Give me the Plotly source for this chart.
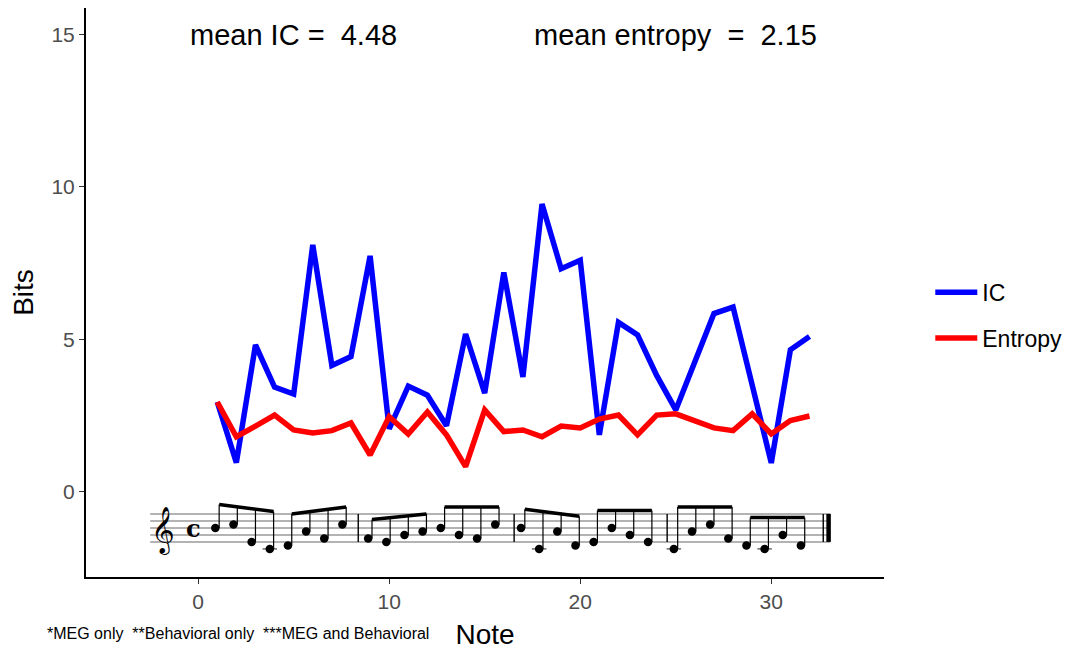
import plotly.graph_objects as go

# ---------------- data ----------------
notes = list(range(1, 33))
ic = [2.95, 0.96, 4.82, 3.44, 3.21, 8.10, 4.15, 4.44, 7.74, 2.07, 3.47, 3.17,
      2.17, 5.18, 3.24, 7.20, 3.77, 9.44, 7.32, 7.60, 1.87, 5.56, 5.15, 3.82,
      2.69, 4.30, 5.85, 6.06, 3.55, 0.95, 4.66, 5.10]
entropy = [2.95, 1.81, 2.16, 2.52, 2.03, 1.93, 2.01, 2.26, 1.21, 2.47, 1.90, 2.62,
           1.87, 0.83, 2.69, 1.98, 2.03, 1.81, 2.16, 2.10, 2.39, 2.52, 1.87, 2.52,
           2.56, 2.34, 2.10, 2.01, 2.56, 1.90, 2.34, 2.49]
mean_ic = 4.48
mean_entropy = 2.15
# melody, in staff steps above E4 (0=E4, 1=F4, ..., -2=C4)
pitches = [4, 5, 0, -2, -1, 3, 1, 5,
           1, 0, 2, 3, 4, 2, 1, 5,
           4, -2, 3, -1, 0, 4, 2, 0,
           -2, 3, 5, 1, -1, -2, 2, -1]
x_ticks = [0, 10, 20, 30]
y_ticks = [0, 5, 10, 15]
footnote = "*MEG only  **Behavioral only  ***MEG and Behavioral"

FONT = "Liberation Sans, Arial, Helvetica, sans-serif"
NB = "\u00a0"

fig = go.Figure()

# ---------------- score (drawn in data space under the curves) ----------------
STAFF_BOTTOM = -1.639
STEP = 0.1148
STAFF_X0, STAFF_X1 = -2.51, 33.08


def py(p):
    return STAFF_BOTTOM + p * STEP


sx, sy = [], []
for i in range(5):
    sx += [STAFF_X0, STAFF_X1, None]
    sy += [py(2 * i), py(2 * i), None]
fig.add_trace(go.Scatter(x=sx, y=sy, mode="lines", line=dict(color="#9a9a9a", width=1.5),
                         hoverinfo="skip", showlegend=False))

# note x positions follow the note index
head_x = [n - 0.1 - 0.05 * ((n - 1) % 8) for n in notes]
head_y = [py(p) for p in pitches]

# bar lines
bx, by = [], []
for xb in [8.38, 16.54, 24.55, 32.72]:
    bx += [xb, xb, None]
    by += [py(0), py(8), None]
fig.add_trace(go.Scatter(x=bx, y=by, mode="lines", line=dict(color="black", width=1.4),
                         hoverinfo="skip", showlegend=False))
fig.add_trace(go.Scatter(x=[33.0, 33.0], y=[py(0), py(8)], mode="lines",
                         line=dict(color="black", width=4.5), hoverinfo="skip", showlegend=False))

# ledger lines
lx, ly = [], []
for xh, p in zip(head_x, pitches):
    if p <= -2:
        lx += [xh - 0.38, xh + 0.38, None]
        ly += [py(-2), py(-2), None]
fig.add_trace(go.Scatter(x=lx, y=ly, mode="lines", line=dict(color="#555555", width=1.3),
                         hoverinfo="skip", showlegend=False))

# stems and beams (groups of four eighth notes, stems up)
DX = 0.2
stx, sty, bmx, bmy = [], [], [], []
for g in range(8):
    ps = pitches[4 * g:4 * g + 4]
    xs = [head_x[4 * g + k] + DX for k in range(4)]
    diff = ps[3] - ps[0]
    if max(ps[1:3]) >= max(ps[0], ps[3]) + 2 or abs(diff) <= 1:
        s = 0.0
    else:
        s = max(-2.0, min(2.0, diff * 0.8))
    L = 5.0
    b = max(ps[k] + L - s * k / 3 for k in range(4))
    for k in range(4):
        top = b + s * k / 3
        stx += [xs[k], xs[k], None]
        sty += [py(ps[k]), py(top), None]
    bmx += [xs[0], xs[3], None]
    bmy += [py(b), py(b + s), None]
fig.add_trace(go.Scatter(x=stx, y=sty, mode="lines", line=dict(color="black", width=1.2),
                         hoverinfo="skip", showlegend=False))
fig.add_trace(go.Scatter(x=bmx, y=bmy, mode="lines", line=dict(color="black", width=3.5),
                         hoverinfo="skip", showlegend=False))
fig.add_trace(go.Scatter(x=head_x, y=head_y, mode="markers",
                         marker=dict(color="black", size=8.5, symbol="circle"),
                         hoverinfo="skip", showlegend=False))

# ---------------- data series ----------------
fig.add_trace(go.Scatter(x=notes, y=ic, mode="lines", name="IC", legendgroup="ic",
                         line=dict(color="#0000FF", width=5.5)))
fig.add_trace(go.Scatter(x=notes, y=entropy, mode="lines", name="Entropy", legendgroup="ent",
                         line=dict(color="#FF0000", width=5.5)))

annotations = [
    dict(x=5, y=15, xref="x", yref="y", text=f"mean IC ={NB}{NB}{mean_ic:.2f}",
         showarrow=False, font=dict(size=29, color="black", family=FONT)),
    dict(x=25, y=15, xref="x", yref="y",
         text=f"mean entropy{NB}{NB}={NB}{NB}{mean_entropy:.2f}",
         showarrow=False, font=dict(size=29, color="black", family=FONT)),
    dict(x=-0.051, y=-0.1, xref="paper", yref="paper", text=footnote, xanchor="left",
         yanchor="middle", showarrow=False, font=dict(size=16, color="black", family=FONT)),
    dict(x=-1.83, y=-1.25, xref="x", yref="y", text="\U0001D11E", showarrow=False,
         font=dict(size=40, color="black", family="DejaVu Sans")),
    dict(x=-0.26, y=-1.2, xref="x", yref="y", text="<b>c</b>", showarrow=False,
         font=dict(size=24, color="black", family="DejaVu Serif")),
]

# the page adds an 8px body margin; margins below compensate for it
fig.update_layout(
    width=1074, height=648,
    margin=dict(l=78, r=198, t=0, b=79),
    paper_bgcolor="white", plot_bgcolor="white",
    font=dict(family=FONT),
    annotations=annotations,
    legend=dict(x=1.058, xanchor="left", y=0.46, yanchor="middle",
                font=dict(size=23, color="black", family=FONT),
                tracegroupgap=13, itemwidth=42),
    xaxis=dict(range=[-5.87, 35.9], tickvals=x_ticks, showgrid=False, zeroline=False,
               showline=True, linecolor="black", linewidth=2,
               ticks="outside", ticklen=5, tickwidth=1.2, tickcolor="#333333",
               tickfont=dict(size=21, color="#4D4D4D", family=FONT),
               title=dict(text="Note", font=dict(size=28, color="black", family=FONT), standoff=12)),
    yaxis=dict(range=[-2.79, 15.87], tickvals=y_ticks, showgrid=False, zeroline=False,
               showline=True, linecolor="black", linewidth=2,
               ticks="outside", ticklen=5, tickwidth=1.2, tickcolor="#333333",
               tickfont=dict(size=21, color="#4D4D4D", family=FONT),
               title=dict(text="Bits", font=dict(size=28, color="black", family=FONT), standoff=17)),
)

fig.write_html("out.html")
